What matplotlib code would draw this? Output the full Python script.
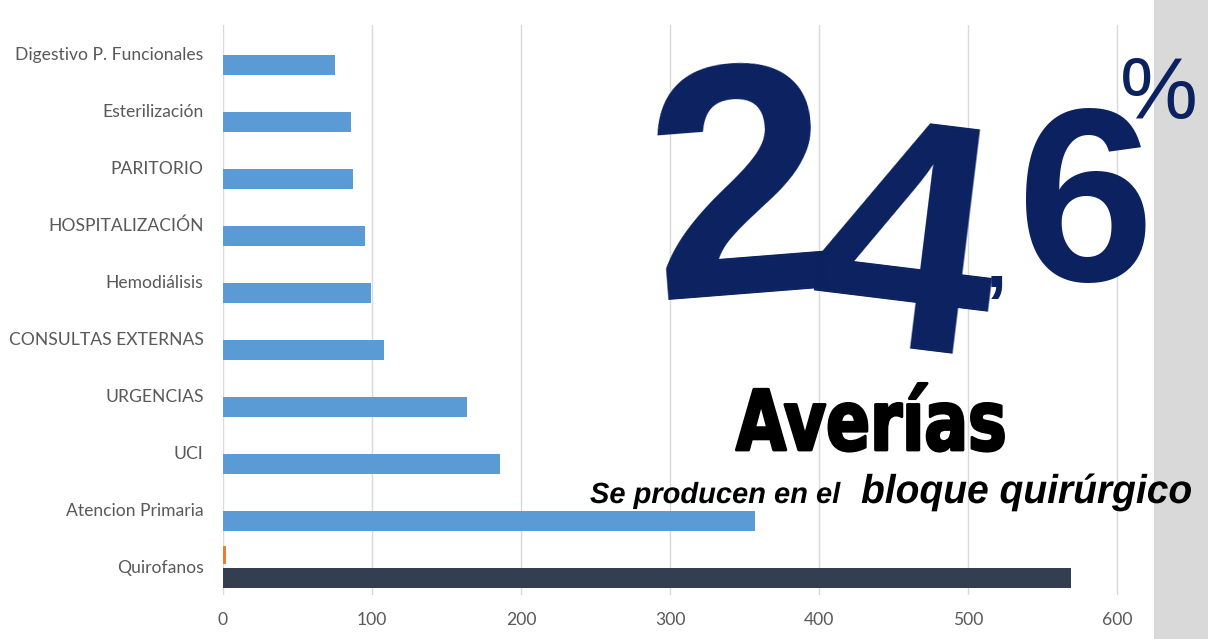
import matplotlib
matplotlib.use("Agg")
import matplotlib.pyplot as plt
import numpy as np
from matplotlib.patheffects import AbstractPathEffect
from matplotlib.transforms import Affine2D
from matplotlib.patches import Rectangle

# ---------------- data ----------------
categories = [
    "Digestivo P. Funcionales",
    "Esterilización",
    "PARITORIO",
    "HOSPITALIZACIÓN",
    "Hemodiálisis",
    "CONSULTAS EXTERNAS",
    "URGENCIAS",
    "UCI",
    "Atencion Primaria",
    "Quirofanos",
]
serie_averias = [75, 86, 87, 95, 99, 108, 164, 186, 357, 569]
serie_otros = [0, 0, 0, 0, 0, 0, 0, 0, 0, 2]
xtick_values = [0, 100, 200, 300, 400, 500, 600]

big_digits = ["2", "4", ",", "6", "%"]
title_word = "Averías"
subtitle_small = "Se producen en el"
subtitle_big = "bloque quirúrgico"

# ---------------- styles ----------------
W, H = 1208, 639
BLUE = "#5B9BD5"
DARK = "#333F50"
ORANGE = "#ED7D31"
NAVY = "#0B2160"
GRID = "#D9D9D9"
LABEL = "#595959"


class Squeeze(AbstractPathEffect):
    """Compress text horizontally about an anchor x (display px)."""

    def __init__(self, sx, cx, stroke=0.0):
        super().__init__()
        self.sx, self.cx, self.stroke = sx, cx, stroke

    def draw_path(self, renderer, gc, tpath, affine, rgbFace=None):
        aff = affine + Affine2D().translate(-self.cx, 0).scale(self.sx, 1).translate(self.cx, 0)
        if self.stroke:
            gc0 = renderer.new_gc()
            gc0.copy_properties(gc)
            gc0.set_linewidth(self.stroke)
            gc0.set_foreground(rgbFace)
            renderer.draw_path(gc0, tpath, aff, rgbFace)
            gc0.restore()
        else:
            renderer.draw_path(gc, tpath, aff, rgbFace)


fig = plt.figure(figsize=(W / 100, H / 100), dpi=100)
fig.patch.set_facecolor("white")
fig.patches.append(Rectangle((1154 / W, 0), 1 - 1154 / W, 1, transform=fig.transFigure,
                             facecolor="#D9D9D9", edgecolor="none", zorder=0))

ax = fig.add_axes([223 / W, 1 - 595 / H, (1147 - 223) / W, (595 - 25) / H])
y = np.arange(len(categories))
ax.barh(y - 0.2, serie_otros, height=0.32, color=ORANGE, linewidth=0, zorder=3)
bar_colors = [BLUE] * (len(categories) - 1) + [DARK]
ax.barh(y + 0.2, serie_averias, height=0.34, color=bar_colors, linewidth=0, zorder=3)

ax.set_yticks(y, categories)
ax.set_ylim(len(categories) - 0.5, -0.5)
ax.set_xlim(0, 620)
ax.set_xticks(xtick_values)
ax.grid(axis="x", color=GRID, linewidth=1)
ax.set_axisbelow(True)
for s in ax.spines.values():
    s.set_visible(False)
ax.tick_params(length=0, labelcolor=LABEL, labelsize=12.6)
ax.tick_params(axis="y", pad=14)
ax.tick_params(axis="x", pad=12)
for lab in ax.get_yticklabels() + ax.get_xticklabels():
    lab.set_fontfamily("Lato")


def px(x, yy):
    return x / W, 1 - yy / H


# big number "24,6%"
fig.text(*px(748, 293), big_digits[0], fontsize=238, fontweight="bold", family="Liberation Sans",
         color=NAVY, ha="center", va="baseline", rotation=4.5, rotation_mode="anchor")
fig.text(*px(893, 347), big_digits[1], fontsize=236, fontweight="bold", family="Liberation Sans",
         color=NAVY, ha="center", va="baseline", rotation=-7, rotation_mode="anchor")
fig.text(*px(996, 287), big_digits[2], fontsize=55, fontweight="bold", family="Liberation Sans",
         color=NAVY, ha="center", va="baseline")
fig.text(*px(1086, 281), big_digits[3], fontsize=178, fontweight="bold", family="Liberation Sans",
         color=NAVY, ha="center", va="baseline")
fig.text(*px(1159, 118), big_digits[4], fontsize=63, family="Liberation Sans",
         color=NAVY, ha="center", va="baseline")

t1 = fig.text(*px(871.5, 450), title_word, fontsize=60, fontweight="bold", family="DejaVu Sans",
              color="black", ha="center", va="baseline")
t2 = fig.text(*px(590, 503), subtitle_small, fontsize=21, fontweight="bold", style="italic",
              family="Liberation Sans", color="black", ha="left", va="baseline")
t3 = fig.text(*px(861, 503), subtitle_big, fontsize=29, fontweight="bold", style="italic",
              family="Liberation Sans", color="black", ha="left", va="baseline")

fig.canvas.draw()
r = fig.canvas.get_renderer()
for t, target, cx, stroke in [(t1, 271, 871.5, 2.0), (t2, 250, 590, 0.0), (t3, 331, 861, 0.0)]:
    w = t.get_window_extent(r).width
    t.set_path_effects([Squeeze(min(1.0, target / w), cx, stroke)])

fig.savefig("out.png", dpi=100)
